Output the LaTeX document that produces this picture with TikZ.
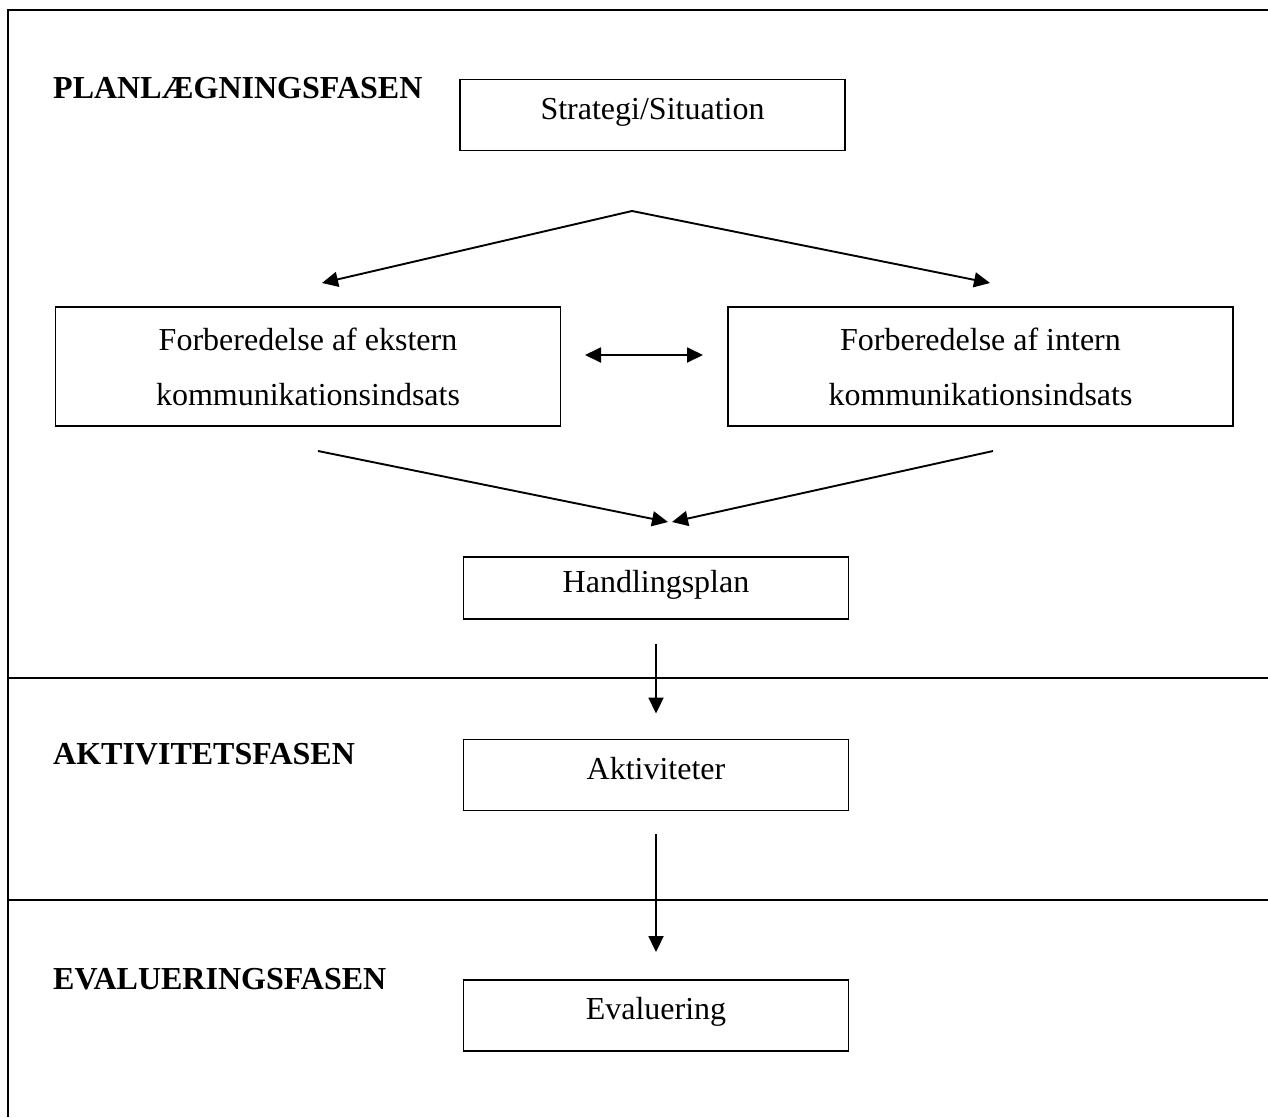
\documentclass[tikz,border=0pt]{standalone}
\usepackage{fontspec}
\setmainfont{Liberation Serif}
\usetikzlibrary{arrows.meta}
\newcommand{\tekstfont}{\fontsize{32}{55}\selectfont}
\tikzset{
  box/.style={draw, line width=1.9pt, minimum width=385pt, minimum height=71pt,
    inner sep=0pt, text height=22pt, text depth=14pt},
  longbox/.style={draw, line width=1.9pt, minimum width=505pt, minimum height=119pt,
    inner sep=0pt, align=center},
  fase/.style={anchor=base west, inner sep=0pt, font=\tekstfont\bfseries},
  pil/.style={line width=1.9pt, -{Triangle[length=16pt,width=15pt]}},
  dobpil/.style={line width=1.9pt, {Triangle[length=16pt,width=15pt]}-{Triangle[length=16pt,width=15pt]}},
  ramme/.style={line width=2.6pt},
}

\begin{document}
\begin{tikzpicture}[x=1pt, y=-1pt, font=\tekstfont]
  \useasboundingbox (0,0) rectangle (1268,1117);

  % ramme og faser
  \draw[ramme] (1268,10) -- (8,10) -- (8,1117);
  \draw[ramme] (8,678) -- (1268,678);
  \draw[ramme] (8,900) -- (1268,900);

  \node[fase] (planfase) at (53,98) {PLANLÆGNINGSFASEN};
  \node[fase] (aktfase) at (53,764) {AKTIVITETSFASEN};
  \node[fase] (evalfase) at (53,989) {EVALUERINGSFASEN};

  % kasser
  \node[box] (strategi) at (652.5,115) {Strategi/Situation};
  \node[longbox] (ekstern) at (308,366.5) {Forberedelse af ekstern\\kommunikationsindsats};
  \node[longbox] (intern) at (980.5,366.5) {Forberedelse af intern\\kommunikationsindsats};
  \node[box, minimum height=62pt] (handling) at (656,588) {Handlingsplan};
  \node[box] (aktiv) at (656,775) {Aktiviteter};
  \node[box] (eval) at (656,1015.5) {Evaluering};

  % frie ender
  \coordinate (split) at (632,211);
  \coordinate (tilEkstern) at (322,283);
  \coordinate (tilIntern) at (990,283);
  \coordinate (dobV) at (585,355);
  \coordinate (dobH) at (703,355);
  \coordinate (fraEkstern) at (318,451);
  \coordinate (fraIntern) at (993,451);
  \coordinate (samlV) at (668,522);
  \coordinate (samlH) at (672,522);

  % pile
  \draw[pil] (split) -- (tilEkstern);
  \draw[pil] (split) -- (tilIntern);
  \draw[dobpil] (dobV) -- (dobH);
  \draw[pil] (fraEkstern) -- (samlV);
  \draw[pil] (fraIntern) -- (samlH);
  \draw[pil, shorten <=24pt, shorten >=25pt] (handling) -- (aktiv);
  \draw[pil, shorten <=23pt, shorten >=27pt] (aktiv) -- (eval);
\end{tikzpicture}
\end{document}
